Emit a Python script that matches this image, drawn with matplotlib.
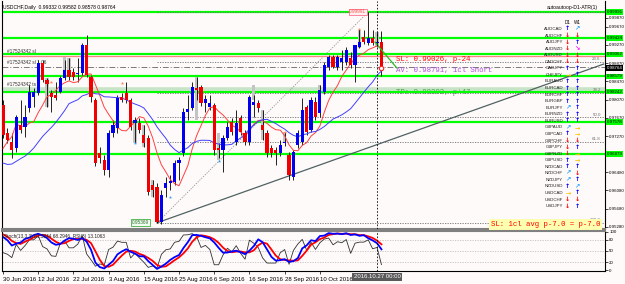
import numpy as np
import pandas as pd
import matplotlib.pyplot as plt

plt.rcParams['font.family'] = ['Liberation Sans', 'DejaVu Sans']

# USDCHF daily bars, 30 Jun 2016 .. 28 Oct 2016
opens = [0.97952, 0.97339, 0.97141, 0.97010, 0.97514, 0.97470, 0.97887, 0.98128, 0.98215, 0.98873,
         0.98500, 0.98215, 0.98172, 0.98237, 0.98544, 0.98720, 0.98676, 0.98632, 0.98654, 0.99268,
         0.98566, 0.98062, 0.96900, 0.96747, 0.96528, 0.97339, 0.97448, 0.98128, 0.98215, 0.98062,
         0.97558, 0.97558, 0.97295, 0.97229, 0.96199, 0.96155, 0.95388, 0.96133, 0.96243, 0.96265,
         0.96681, 0.96900, 0.97799, 0.97887, 0.98325, 0.98347, 0.97996, 0.97909, 0.97952, 0.97010,
         0.96966, 0.97229, 0.97580, 0.97141, 0.97667, 0.97339, 0.97141, 0.97952, 0.97996, 0.97514,
         0.97339, 0.97010, 0.96966, 0.96900, 0.97119, 0.96856, 0.96374, 0.97076, 0.97141, 0.97909,
         0.97404, 0.98018, 0.97777, 0.98237, 0.98785, 0.99005, 0.98785, 0.98895, 0.98895, 0.98983,
         0.98829, 0.99224, 0.99443, 0.99311, 0.99421, 0.99311, 0.99332]
highs = [0.98062, 0.97448, 0.97339, 0.97733, 0.98062, 0.97952, 0.98391, 0.98325, 0.98939, 0.98939,
         0.98544, 0.98281, 0.98457, 0.98588, 0.98939, 0.98983, 0.98763, 0.98983, 0.99311, 0.99487,
         0.98610, 0.98106, 0.97032, 0.96856, 0.97404, 0.97624, 0.98172, 0.98215, 0.98457, 0.98106,
         0.97689, 0.97667, 0.97514, 0.97295, 0.96308, 0.96243, 0.96089, 0.96374, 0.96418, 0.96747,
         0.96813, 0.97887, 0.98172, 0.98457, 0.98566, 0.98391, 0.98172, 0.98172, 0.97996, 0.97119,
         0.97295, 0.97580, 0.97667, 0.97843, 0.97733, 0.97404, 0.98172, 0.98172, 0.98062, 0.97843,
         0.97404, 0.97076, 0.97032, 0.97185, 0.97361, 0.96922, 0.96966, 0.97404, 0.98106, 0.97952,
         0.98128, 0.98128, 0.98391, 0.98895, 0.99048, 0.99048, 0.99048, 0.99158, 0.99224, 0.99114,
         0.99268, 0.99618, 0.99596, 0.99991, 0.99596, 0.99553, 0.99582]
lows = [0.97229, 0.97119, 0.96791, 0.96922, 0.97339, 0.97251, 0.97799, 0.97909, 0.98172, 0.98457,
        0.97909, 0.97799, 0.98062, 0.98215, 0.98500, 0.98500, 0.98500, 0.98457, 0.98610, 0.98566,
        0.98018, 0.96615, 0.96681, 0.96418, 0.96374, 0.97251, 0.97339, 0.98018, 0.97996, 0.97404,
        0.97119, 0.97339, 0.97032, 0.95980, 0.95936, 0.95369, 0.95344, 0.95936, 0.96089, 0.96199,
        0.96308, 0.96835, 0.97624, 0.97843, 0.98062, 0.97931, 0.97799, 0.97843, 0.96856, 0.96791,
        0.96484, 0.97185, 0.97295, 0.97076, 0.97295, 0.97076, 0.97076, 0.97689, 0.97799, 0.97185,
        0.96813, 0.96813, 0.96637, 0.96835, 0.97054, 0.96308, 0.96308, 0.97010, 0.97076, 0.97295,
        0.97361, 0.97624, 0.97689, 0.98194, 0.98720, 0.98763, 0.98720, 0.98720, 0.98829, 0.98763,
        0.98457, 0.99202, 0.99290, 0.99268, 0.99268, 0.99224, 0.98578]
closes = [0.97295, 0.97185, 0.96966, 0.97689, 0.97404, 0.97689, 0.98237, 0.98237, 0.98873, 0.98500,
          0.98413, 0.98128, 0.98106, 0.98544, 0.98720, 0.98566, 0.98566, 0.98654, 0.99268, 0.98610,
          0.98128, 0.96681, 0.96791, 0.96528, 0.97339, 0.97514, 0.98106, 0.98062, 0.98062, 0.97470,
          0.97624, 0.97404, 0.97119, 0.96045, 0.96089, 0.95388, 0.95980, 0.96243, 0.96287, 0.96681,
          0.96747, 0.97799, 0.97865, 0.98347, 0.98281, 0.97996, 0.98084, 0.97996, 0.96966, 0.96966,
          0.97229, 0.97470, 0.97361, 0.97558, 0.97361, 0.97141, 0.98128, 0.98018, 0.97887, 0.97404,
          0.96900, 0.96900, 0.96900, 0.97076, 0.97141, 0.96418, 0.96922, 0.97339, 0.97843, 0.97361,
          0.98062, 0.97689, 0.98281, 0.98829, 0.99005, 0.98785, 0.99005, 0.98983, 0.99158, 0.98829,
          0.99268, 0.99333, 0.99333, 0.99421, 0.99311, 0.99333, 0.98764]

# june closes, only to warm up the averages / oscillators
pre_closes = [0.9890, 0.9780, 0.9680, 0.9650, 0.9620, 0.9660, 0.9660, 0.9630, 0.9630, 0.9600,
              0.9640, 0.9620, 0.9590, 0.9600, 0.9610, 0.9550, 0.9770, 0.9780, 0.9760, 0.9800]

# light grey shadow bars
grey_idx = [10, 14, 15, 30, 32, 34, 44, 49, 53, 57, 59, 64, 72, 81, 85]
grey_hi = [0.98544, 0.99005, 0.98983, 0.97624, 0.97514, 0.96308, 0.98566, 0.97339, 0.97580, 0.98391,
           0.97843, 0.97361, 0.98391, 0.99596, 0.99553]
grey_lo = [0.97909, 0.98720, 0.98720, 0.97119, 0.97032, 0.95936, 0.97624, 0.96747, 0.97119, 0.98062,
           0.97185, 0.97119, 0.98062, 0.99202, 0.99224]

up_marks_idx = [11, 27, 64, 81]
up_marks = [0.98457, 0.98435, 0.97361, 0.99618]
dn_marks_idx = [30, 38, 49]
dn_marks = [0.97119, 0.95936, 0.96725]

levels = [0.99991, 0.99424, 0.99062, 0.98579, 0.98242, 0.97578, 0.96879]
sl_price, av_price, tp_price = 0.99026, 0.98791, 0.98303
last_price = 0.98764
fib_low, fib_high = 0.95369, 0.99991
fib_low_bar, fib_high_bar = 35, 83
fib_ratios = [0.0, 0.236, 0.382, 0.5, 0.618, 1.0]
fib_names = ['', '23.6', '38.2', '50.0', '61.8', '100.0']
trend_x = [35, 136.5]
trend_y = [0.9537, 0.9885]
order_x = [84.5, 89.5]
order_y = [0.99333, 0.98764]

price_ticks = [0.99870, 0.99670, 0.99270, 0.98870, 0.98470, 0.98070, 0.97670, 0.97270,
               0.96480, 0.96080, 0.95680, 0.95280]
date_bars = [0, 8, 16, 24, 32, 40, 48, 56, 64, 72]
date_labels = ['30 Jun 2016', '12 Jul 2016', '22 Jul 2016', '3 Aug 2016', '15 Aug 2016',
               '25 Aug 2016', '6 Sep 2016', '16 Sep 2016', '28 Sep 2016', '10 Oct 2016']
cursor_bar = 85

pairs = ['AUDCAD', 'AUDCHF', 'AUDJPY', 'AUDNZD', 'AUDUSD', 'CADCHF', 'CADJPY', 'CHFJPY',
         'EURAUD', 'EURCAD', 'EURCHF', 'EURGBP', 'EURJPY', 'EURNZD', 'EURUSD', 'GBPAUD',
         'GBPCAD', 'GBPCHF', 'GBPJPY', 'GBPNZD', 'GBPUSD', 'NZDCAD', 'NZDCHF', 'NZDJPY',
         'NZDUSD', 'USDCAD', 'USDCHF', 'USDJPY']
d1 = ['u', 'd', 'd', 'd', 'd', 'd', 'u', 'r', 'u', 'u', 'u', 'u', 'ur', 'u', 'u', 'ur',
      'u', 'd', 'd', 'd', 'u', 'u', 'ur', 'ur', 'u', 'r', 'd', 'd']
w1 = ['ur', 'd', 'u', 'dr', 'd', 'd', 'u', 'u', 'u', 'u', 'u', 'u', 'u', 'u', 'u', 'r',
      'r', 'd', 'u', 'r', 'r', 'u', 'd', 'u', 'ur', 'u', 'd', 'u']
arrows = {'u': ('\u2191', '#0000ff'), 'd': ('\u2193', '#ff0000'), 'ur': ('\u2197', '#20a0ff'),
          'dr': ('\u2198', '#ff00ff'), 'r': ('\u2192', '#ffc000')}

#indicators
npre = len(pre_closes)
c_all = pd.Series(pre_closes + closes)
h_all = pd.Series(pre_closes + highs)
l_all = pd.Series(pre_closes + lows)
ma_fast = c_all.rolling(8).mean().values[npre:]
ma_slow = c_all.rolling(20).mean().values[npre:]
hh = h_all.rolling(13).max()
ll = l_all.rolling(13).min()
st_main = 100 * (c_all - ll).rolling(3).sum() / (hh - ll).rolling(3).sum()
st_sig = st_main.rolling(3).mean()
dlt = c_all.diff()
gain = dlt.clip(lower=0).ewm(alpha=1/3, adjust=False).mean()
loss = (-dlt.clip(upper=0)).ewm(alpha=1/3, adjust=False).mean()
rsi = 100 - 100 / (1 + gain / loss)
st_main = st_main.values[npre:]
st_sig = st_sig.values[npre:]
rsi = rsi.values[npre:]

bg = '#fffafa'
W, H = 625, 284
fig = plt.figure(figsize=(6.25, 2.84), dpi=100, facecolor=bg)
ax = fig.add_axes([2/W, 1-229/H, 603/W, 228/H], facecolor=bg)
ax2 = fig.add_axes([2/W, 1-271/H, 603/W, 40/H], facecolor=bg)

def px(x, y):
    return x / W, 1 - y / H

idx = np.arange(len(closes))
o = np.array(opens); c = np.array(closes)
xmin, xmax = -0.23, 136.8
small = 3.4
axlab = 3.15

# main chart
for lv in levels:
    ax.axhline(lv, color='#00ff00', lw=1.6, zorder=2)
ax.axhline(tp_price, color='#c8e4c8', lw=2.6, zorder=1.5)
ax.axhline(sl_price, color='#ff8080', lw=0.9, zorder=2.1)
ax.axhline(av_price, color='#7a7a7a', lw=0.7, ls=(0, (6, 2, 1, 2)), zorder=2.1)

fib_prices = [fib_high - r * (fib_high - fib_low) for r in fib_ratios]
ax.hlines(fib_prices, fib_low_bar, xmax, colors='#707070', linestyles=(0, (1.5, 1.5)), lw=0.6, zorder=2.2)
ax.plot([fib_low_bar, fib_high_bar], [fib_low, fib_high], color='#909090', ls=(0, (1.5, 1.5)), lw=0.6)
yax = ax.get_yaxis_transform()
for fp, nm in zip(fib_prices, fib_names):
    ax.text(0.993, fp + 0.0002, nm, transform=yax, ha='right', va='bottom', fontsize=3.2, color='#707070')
ax.plot(trend_x, trend_y, color='#4f6262', lw=0.9, zorder=2.3)

ax.bar(grey_idx, np.array(grey_hi) - np.array(grey_lo), bottom=grey_lo, width=0.75,
       color='#c4c4c4', lw=0, zorder=2.5)
ax.vlines(idx, lows, highs, color='black', lw=0.6, zorder=3)
body_lo = np.minimum(o, c)
body_h = np.maximum(np.abs(c - o), 0.00007)
cols = np.where(c >= o, '#0000f0', '#f00000')
ax.bar(idx, body_h, bottom=body_lo, width=0.72, color=cols, lw=0, zorder=4)
ax.plot(idx, ma_fast, color='#ff4040', lw=0.7, zorder=3.5)
ax.plot(idx, ma_slow, color='#4040ff', lw=0.7, zorder=3.5)
ax.scatter(up_marks_idx, up_marks, marker='*', s=6, color='#ff8040', lw=0, zorder=5)
ax.scatter(dn_marks_idx, dn_marks, marker='*', s=6, color='#30a0ff', lw=0, zorder=5)
ax.plot(order_x, order_y, color='#20c020', lw=0.9, zorder=5)
ax.scatter([idx[-1]], [last_price], s=10, facecolor='white', edgecolor='#ff2020', lw=0.8, zorder=6)
ax.axvline(cursor_bar, color='black', lw=0.6, ls=(0, (2, 2)), zorder=5)

mono = 'Liberation Mono'
ax.text(89.2, sl_price, 'SL: 0.99026, p-24', family=mono, fontsize=5.3, color='#ff0000', va='top', zorder=6)
ax.text(89.2, av_price, 'AV: 0.98791, 1cl Short', family=mono, fontsize=5.3, color='#b050e0', va='top', zorder=6)
ax.text(89.2, tp_price, 'TP: 0.98303, p+47', family=mono, fontsize=5.3, color='#40a040', va='top', zorder=1.8)
ax.text(0.992, 0.95333, 'SL: 1cl avg p-7.0 = p-7.0', transform=yax, family=mono, fontsize=5.3,
        color='#ff0000', ha='right', va='center', zorder=6,
        bbox=dict(facecolor='#ffffb0', edgecolor='none', pad=1.2))
ax.text(33.2, fib_low, '0.95369', fontsize=small, color='#307030', ha='right', va='center', zorder=6,
        bbox=dict(facecolor='#f0fff0', edgecolor='#40b040', lw=0.6, pad=0.6))
ax.text(82.6, fib_high, '0.99991', fontsize=small, color='#ff5050', ha='right', va='center', zorder=6,
        bbox=dict(facecolor='#fff0f0', edgecolor='#ff7090', lw=0.6, pad=0.6))
ax.text(0.8, sl_price + 0.0004, '#17524342 sl', fontsize=small, color='#303030', va='bottom')
ax.text(0.8, av_price + 0.0004, '#17524342 sl 1.06', fontsize=small, color='#303030', va='bottom')
ax.text(0.8, tp_price + 0.0004, '#17524342 ts', fontsize=small, color='#303030', va='bottom')

ax.set_xlim(xmin, xmax)
ax.set_ylim(0.95234, 1.00232)
ax.set_xticks([])
ax.yaxis.tick_right()
ax.set_yticks(price_ticks)
ax.set_yticklabels(['%.5f' % t for t in price_ticks])
ax.tick_params(axis='y', labelsize=axlab, length=2, pad=1.0, width=0.5)
for lv in levels:
    ax.text(1.0025, lv, '%.5f' % lv, transform=yax, fontsize=axlab, color='black', va='center',
            bbox=dict(facecolor='#00ff00', edgecolor='none', pad=0.5), zorder=7, clip_on=False)
ax.text(1.0025, last_price, '%.5f' % last_price, transform=yax, fontsize=axlab, color='white', va='center',
        bbox=dict(facecolor='black', edgecolor='none', pad=0.5), zorder=7, clip_on=False)
ax.spines['top'].set_visible(False)
for s in ['left', 'right']:
    ax.spines[s].set_linewidth(0.8)
ax.spines['bottom'].set_color('#808080')
ax.spines['bottom'].set_linewidth(1.5)

# oscillator window
for lv in [20, 50, 80]:
    ax2.axhline(lv, color='#c0c0c0', lw=0.6, ls=(0, (1.5, 1.5)))
ax2.plot(idx, rsi, color='#303030', lw=0.6)
ax2.plot(idx, st_sig, color='#ff0000', lw=1.3)
ax2.plot(idx, st_main, color='#0000ff', lw=1.3)
ax2.axvline(cursor_bar, color='black', lw=0.6, ls=(0, (2, 2)))
ax2.set_xlim(xmin, xmax)
ax2.set_ylim(-2.6, 102.6)
ax2.yaxis.tick_right()
ax2.set_yticks([0, 20, 50, 80, 100])
ax2.set_yticklabels(['0', '20', '50', '80', '100'])
ax2.tick_params(axis='y', labelsize=axlab, length=2, pad=1.0, width=0.5)
ax2.set_xticks(date_bars)
ax2.set_xticklabels(date_labels, ha='left')
ax2.tick_params(axis='x', labelsize=4.3, length=2.5, pad=1.5, width=0.5)
ax2.spines['top'].set_color('#808080')
ax2.spines['top'].set_linewidth(1.5)
ax2.text(cursor_bar, -0.15, '2016.10.27 00:00', transform=ax2.get_xaxis_transform(), ha='center',
         va='center', fontsize=4.3, color='white', bbox=dict(facecolor='#5a5a5a', edgecolor='none', pad=0.8))
ax2.text(0.003, 0.93, 'Stoch(13,3,3) 61.3244 68.2946  RSI(3) 13.1063', transform=ax2.transAxes,
         fontsize=small, va='top', color='#202020')

# header texts and trend table
fig.text(*px(3, 7), 'USDCHF,Daily  0.99332 0.99582 0.98578 0.98764', fontsize=3.6, va='center')
fig.text(*px(598, 7), 'autoautoop-D1-ATR(1)', fontsize=3.6, va='center', ha='right')
fig.text(*px(568, 22), 'D1', fontsize=3.3, va='center', ha='center')
fig.text(*px(577, 22), 'W1', fontsize=3.3, va='center', ha='center')
for k, (p, a, b) in enumerate(zip(pairs, d1, w1)):
    yy = 29 + 6.56 * k
    fig.text(*px(563, yy), p, fontsize=3.2, va='center', ha='right', color='#202020')
    g, cl = arrows[a]
    fig.text(*px(568, yy), g, fontsize=4.6, va='center', ha='center', color=cl, weight='bold',
             family='DejaVu Sans')
    g, cl = arrows[b]
    fig.text(*px(577, yy), g, fontsize=4.6, va='center', ha='center', color=cl, weight='bold',
             family='DejaVu Sans')

fig.savefig('out.png', dpi=100, facecolor=bg)
